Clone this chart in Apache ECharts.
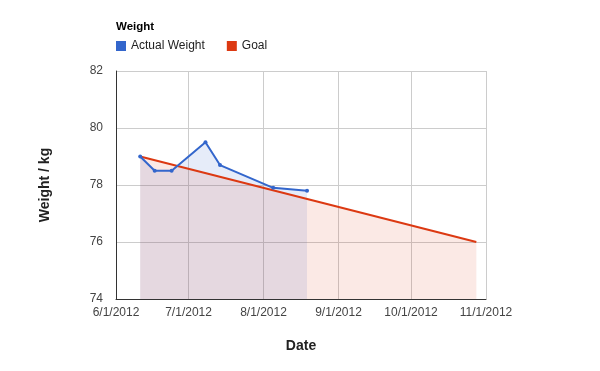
<!DOCTYPE html>
<html>
<head>
<meta charset="utf-8">
<script src="https://cdn.jsdelivr.net/npm/echarts@6/dist/echarts.min.js"></script>
<style>
html,body{margin:0;padding:0;background:#fff;}
#chart{width:600px;height:371px;}
</style>
</head>
<body>
<div id="chart"></div>
<script>
// Data
var actualDates = ['2012-06-11','2012-06-17','2012-06-24','2012-07-08','2012-07-14','2012-08-05','2012-08-19'];
var actualValues = [79.0, 78.5, 78.5, 79.5, 78.7, 77.9, 77.8];
var goalDates = ['2012-06-11','2012-10-28'];
var goalValues = [79.0, 76.0];
var xTickDates = ['2012-06-01','2012-07-01','2012-08-01','2012-09-01','2012-10-01','2012-11-01'];
var yTicks = [74, 76, 78, 80, 82];

function toTime(s){ var p=s.split('-'); return Date.UTC(+p[0], +p[1]-1, +p[2]); }
function pairs(ds, vs){ return ds.map(function(d,i){ return [toTime(d), vs[i]]; }); }
var xTicks = xTickDates.map(toTime);
var actualData = pairs(actualDates, actualValues);
var goalData = pairs(goalDates, goalValues);

var FONT = '"Liberation Sans", Arial, sans-serif';
var BLUE = '#3366cc', RED = '#dc3912';
var chart = echarts.init(document.getElementById('chart'), null, {renderer:'canvas'});
chart.setOption({
  animation:false,
  textStyle:{fontFamily:FONT},
  title:{text:'Weight', left:116, top:21, padding:0, textStyle:{fontFamily:FONT,fontSize:11.5,fontWeight:'bold',color:'#000'}},
  legend:{
    left:116, top:40, padding:0, itemWidth:10, itemHeight:10, itemGap:22, icon:'rect',
    textStyle:{fontFamily:FONT,fontSize:12,color:'#222'},
    data:['Actual Weight','Goal']
  },
  grid:{left:116, right:114, top:71, bottom:72},
  xAxis:{
    type:'value', min:xTicks[0], max:xTicks[xTicks.length-1],
    name:'Date', nameLocation:'middle', nameGap:40,
    nameTextStyle:{fontFamily:FONT,fontSize:14,fontWeight:'bold',color:'#222'},
    axisLine:{show:true, lineStyle:{color:'#333',width:1}},
    axisTick:{show:false, customValues:xTicks},
    axisLabel:{customValues:xTicks, color:'#444', fontSize:12, fontFamily:FONT, margin:8, hideOverlap:false,
      formatter:function(v){var d=new Date(v); return (d.getUTCMonth()+1)+'/'+d.getUTCDate()+'/'+d.getUTCFullYear();}},
    splitLine:{show:false}
  },
  yAxis:{
    type:'value', min:yTicks[0], max:yTicks[yTicks.length-1], interval:2,
    name:'Weight / kg', nameLocation:'middle', nameGap:64, nameRotate:90,
    nameTextStyle:{fontFamily:FONT,fontSize:14,fontWeight:'bold',color:'#222'},
    axisLine:{show:true, lineStyle:{color:'#333',width:1}},
    axisTick:{show:false},
    axisLabel:{color:'#444', fontSize:12, fontFamily:FONT, margin:13},
    splitLine:{show:true, lineStyle:{color:'#ccc',width:1}}
  },
  series:[
    {
      name:'Actual Weight', type:'line', data:actualData,
      itemStyle:{color:BLUE}, lineStyle:{width:0, opacity:0},
      symbol:'none', showSymbol:false,
      areaStyle:{color:BLUE, opacity:0.12}, z:1,
      markLine:{
        silent:true, symbol:'none', label:{show:false}, z:0,
        lineStyle:{color:'#ccc', width:1, type:'solid'},
        data: xTicks.slice(1).map(function(t){ return {xAxis:t}; })
      }
    },
    {
      name:'Goal', type:'line', data:goalData,
      itemStyle:{color:RED}, lineStyle:{color:RED,width:2},
      symbol:'none', showSymbol:false,
      areaStyle:{color:RED, opacity:0.11}, z:2
    },
    {
      name:'Actual Weight', type:'line', data:actualData,
      itemStyle:{color:BLUE}, lineStyle:{color:BLUE,width:2},
      symbol:'circle', symbolSize:4, showSymbol:true, z:3
    }
  ]
});
</script>
</body>
</html>
